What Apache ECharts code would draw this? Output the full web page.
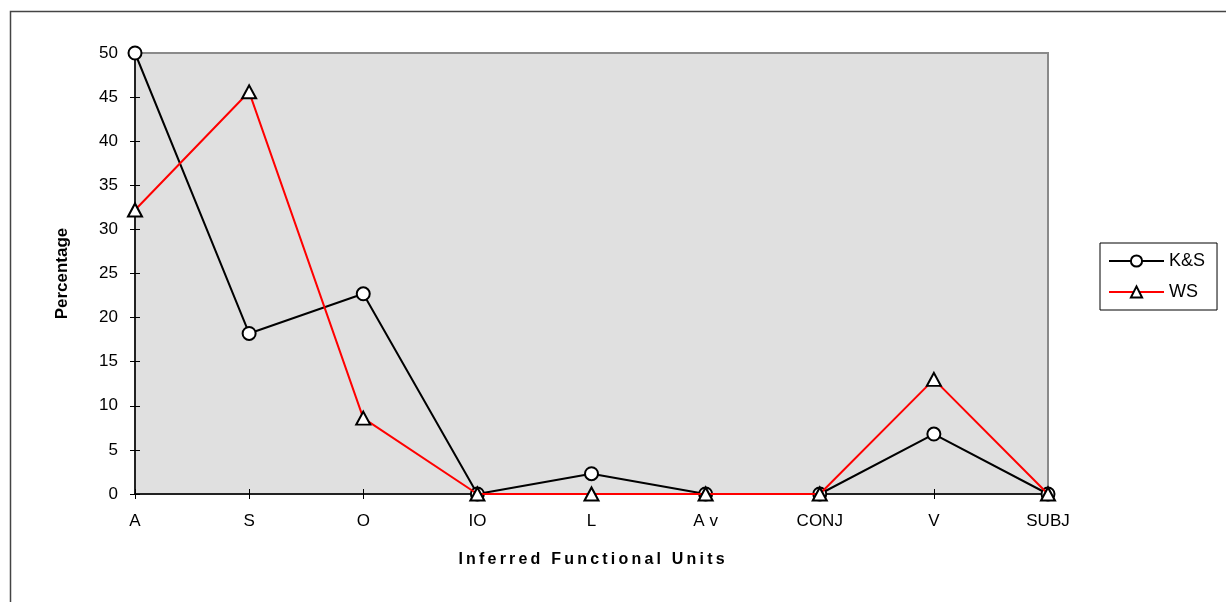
<!DOCTYPE html>
<html><head><meta charset="utf-8">
<script src="https://cdn.jsdelivr.net/npm/echarts@6/dist/echarts.min.js"></script>
<style>html,body{margin:0;padding:0;background:#fff}#c{width:1226px;height:602px}</style>
</head><body><div id="c"></div>
<script>
const categories = ['A','S','O','IO','L','A v','CONJ','V','SUBJ'];
const ksValues = [50, 18.2, 22.7, 0, 2.3, 0, 0, 6.8, 0];
const wsValues = [32.2, 45.6, 8.6, 0, 0, 0, 0, 13.0, 0];
const yTicks = {min: 0, max: 50, interval: 5};
const seriesNames = ['K&S', 'WS'];

const font = 'Liberation Sans, Arial, sans-serif';
const spaced = s => s.split('').join('\u2009');
const chart = echarts.init(document.getElementById('c'));
chart.setOption({
  animation: false,
  graphic: [{type:'rect', shape:{x:10.5,y:11.5,width:1240,height:620}, style:{fill:'none', stroke:'#444', lineWidth:1.5}, silent:true, z:-10}],
  grid: {left:135, right:178, top:53, bottom:108, show:true, backgroundColor:'#e0e0e0', borderColor:'#8a8a8a', borderWidth:2},
  legend: {
    orient:'vertical', left:1100, top:243, width:118,
    padding:[9,12,9,8], itemGap:13, itemWidth:55, itemHeight:14,
    backgroundColor:'#fff', borderColor:'#000', borderWidth:1, borderRadius:0,
    textStyle:{fontFamily:font, fontSize:18, color:'#000'},
    data: seriesNames
  },
  xAxis: [{
    type:'category', data:categories, boundaryGap:false,
    axisLine:{lineStyle:{color:'#000', width:1.5}},
    axisTick:{show:true, length:5, lineStyle:{color:'#000'}},
    axisLabel:{fontFamily:font, fontSize:17, color:'#000', margin:19},
    name: spaced('Inferred Functional Units'), nameLocation:'middle', nameGap:58,
    nameTextStyle:{fontFamily:font, fontSize:16, fontWeight:'bold', color:'#000'}
  },{
    type:'category', data:categories, boundaryGap:false, position:'bottom',
    axisLine:{show:false}, axisTick:{show:true, inside:true, length:5, lineStyle:{color:'#000'}},
    axisLabel:{show:false}
  }],
  yAxis: [{
    type:'value', min:yTicks.min, max:yTicks.max, interval:yTicks.interval,
    axisLine:{show:true, lineStyle:{color:'#000', width:1.5}},
    axisTick:{show:true, length:5, lineStyle:{color:'#000'}},
    splitLine:{show:false},
    axisLabel:{fontFamily:font, fontSize:17, color:'#000', margin:17},
    name:'Percentage', nameLocation:'middle', nameGap:64,
    nameTextStyle:{fontFamily:font, fontSize:17, fontWeight:'bold', color:'#000'}
  },{
    type:'value', min:yTicks.min, max:yTicks.max, interval:yTicks.interval, position:'left',
    axisLine:{show:false}, axisTick:{show:true, inside:true, length:5, lineStyle:{color:'#000'}},
    splitLine:{show:false}, axisLabel:{show:false}
  }],
  series: [{
    name: seriesNames[0], type:'line', data: ksValues,
    symbol:'circle', symbolSize:13, showAllSymbol:true,
    lineStyle:{color:'#000', width:2},
    itemStyle:{color:'#fff', borderColor:'#000', borderWidth:2},
    z:2
  },{
    name: seriesNames[1], type:'line', data: wsValues,
    symbol:'triangle', symbolSize:[14,13], showAllSymbol:true,
    lineStyle:{color:'#ff0000', width:2},
    itemStyle:{color:'#fff', borderColor:'#000', borderWidth:2},
    z:3
  }]
});
</script></body></html>
